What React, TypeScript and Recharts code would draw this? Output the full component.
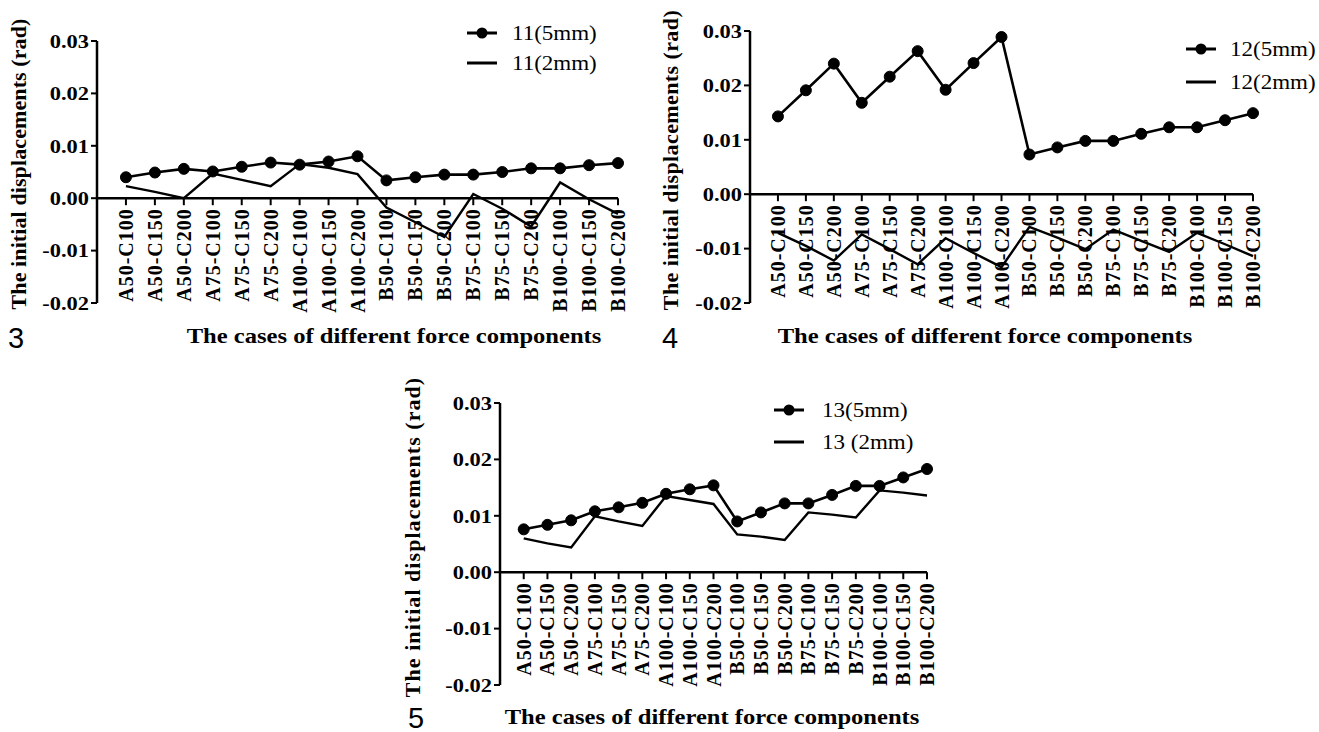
import React from "react";
import { LineChart, Line, XAxis, YAxis, ReferenceLine, Legend } from "recharts";

// force component cases (x categories)
const cases = [
  "A50-C100", "A50-C150", "A50-C200",
  "A75-C100", "A75-C150", "A75-C200",
  "A100-C100", "A100-C150", "A100-C200",
  "B50-C100", "B50-C150", "B50-C200",
  "B75-C100", "B75-C150", "B75-C200",
  "B100-C100", "B100-C150", "B100-C200",
];
const yTicks = [-0.02, -0.01, 0, 0.01, 0.02, 0.03];

// panel 3 : DOF 11
const dof11_5mm = [0.004, 0.0049, 0.0056, 0.0051, 0.006, 0.0068, 0.0064, 0.007, 0.008, 0.0034, 0.004, 0.0045, 0.0045, 0.005, 0.0057, 0.0057, 0.0063, 0.0067];
const dof11_2mm = [0.0023, 0.0012, 0.0, 0.0047, 0.0035, 0.0023, 0.0065, 0.0058, 0.0046, -0.0018, -0.0046, -0.0074, 0.0008, -0.002, -0.0054, 0.003, -0.0002, -0.003];

// panel 4 : DOF 12
const dof12_5mm = [0.0143, 0.0191, 0.024, 0.0168, 0.0216, 0.0263, 0.0192, 0.0241, 0.0289, 0.0073, 0.0086, 0.0098, 0.0098, 0.0111, 0.0123, 0.0123, 0.0136, 0.0149];
const dof12_2mm = [-0.0071, -0.0095, -0.0122, -0.0074, -0.0101, -0.0129, -0.0081, -0.0108, -0.0134, -0.006, -0.008, -0.0101, -0.0065, -0.0086, -0.0106, -0.0071, -0.0092, -0.0114];

// panel 5 : DOF 13
const dof13_5mm = [0.0076, 0.0084, 0.0092, 0.0108, 0.0115, 0.0123, 0.0139, 0.0147, 0.0154, 0.009, 0.0106, 0.0122, 0.0122, 0.0137, 0.0153, 0.0153, 0.0168, 0.0183];
const dof13_2mm = [0.006, 0.0051, 0.0044, 0.0099, 0.009, 0.0082, 0.0135, 0.0128, 0.0121, 0.0067, 0.0063, 0.0057, 0.0106, 0.0102, 0.0097, 0.0145, 0.0141, 0.0136];

const Y_MIN = -0.02;
const Y_MAX = 0.03;
const serif = '"Liberation Serif", "Times New Roman", serif';
const sans = '"Liberation Sans", Arial, sans-serif';

const panels = [
  {
    num: "3", s5: dof11_5mm, s2: dof11_2mm, name5: "11(5mm)", name2: "11(2mm)",
    box: { left: 0, top: 0, width: 640, height: 330 },
    plot: { left: 97, top: 41, right: 618, bottom: 303 },
    legend: { left: 467, top: 18, rowH: 30, gap: 15 },
    yTitle: { x: 19, y: 164, spacing: 0.1 },
    xTitle: { x: 394, y: 336 },
    numPos: { x: 16, y: 338 },
  },
  {
    num: "4", s5: dof12_5mm, s2: dof12_2mm, name5: "12(5mm)", name2: "12(2mm)",
    box: { left: 660, top: 0, width: 659, height: 330 },
    plot: { left: 750, top: 31, right: 1253, bottom: 303 },
    legend: { left: 1186, top: 32, rowH: 33, gap: 14 },
    yTitle: { x: 671, y: 160, spacing: 0.4 },
    xTitle: { x: 985, y: 336 },
    numPos: { x: 670, y: 338 },
  },
  {
    num: "5", s5: dof13_5mm, s2: dof13_2mm, name5: "13(5mm)", name2: "13 (2mm)",
    box: { left: 420, top: 370, width: 540, height: 340 },
    plot: { left: 500, top: 403, right: 927, bottom: 685 },
    legend: { left: 774, top: 394, rowH: 32, gap: 18 },
    yTitle: { x: 413, y: 537, spacing: 1.05 },
    xTitle: { x: 712, y: 717 },
    numPos: { x: 416, y: 718 },
  },
];

function XTick({ x, payload, zeroY }: any) {
  const label = cases[payload.value];
  return (
    <g>
      <line x1={x} x2={x} y1={zeroY} y2={zeroY + 7} stroke="#000" strokeWidth={2} />
      <text
        transform={`translate(${x},${zeroY + 10}) rotate(-90)`}
        textAnchor="end"
        dominantBaseline="central"
        style={{ fontFamily: serif, fontWeight: 700, fontSize: 20, letterSpacing: 1 }}
        fill="#000"
      >
        {label}
      </text>
    </g>
  );
}

function YTick({ x, y, payload }: any) {
  return (
    <text
      transform={`translate(${x},${y}) scale(1.18,1)`}
      textAnchor="end"
      dominantBaseline="central"
      style={{ fontFamily: serif, fontWeight: 700, fontSize: 19 }}
      fill="#000"
    >
      {Number(payload.value).toFixed(2)}
    </text>
  );
}

function LegendBox({ payload, rowH, gap, dotName }: any) {
  // 5mm series first, as in the original figure
  const items = [...(payload || [])].sort((a: any, b: any) =>
    a.value === dotName ? -1 : b.value === dotName ? 1 : 0
  );
  return (
    <div>
      {items.map((e: any) => (
        <div key={e.value} style={{ display: "flex", alignItems: "center", height: rowH }}>
          <svg width={30} height={14}>
            <line x1={0} x2={30} y1={7} y2={7} stroke="#000" strokeWidth={3} />
            {e.value === dotName && <circle cx={15} cy={7} r={5.5} fill="#000" />}
          </svg>
          <span
            style={{
              marginLeft: gap,
              fontFamily: serif,
              fontSize: 20,
              lineHeight: 1,
              display: "inline-block",
              whiteSpace: "nowrap",
              transform: "scaleX(1.15)",
              transformOrigin: "left center",
              color: "#000",
            }}
          >
            {e.value}
          </span>
        </div>
      ))}
    </div>
  );
}

function Panel({ cfg }: any) {
  const { box, plot } = cfg;
  const yAxisW = plot.left - box.left;
  const xAxisH = box.top + box.height - plot.bottom;
  const margin = { top: plot.top - box.top, right: box.left + box.width - plot.right, bottom: 0, left: 0 };
  const zeroY = margin.top + ((Y_MAX - 0) / (Y_MAX - Y_MIN)) * (plot.bottom - plot.top);
  const data = cases.map((c, i) => ({ idx: i, name: c, s5: cfg.s5[i], s2: cfg.s2[i] }));

  return (
    <div style={{ position: "absolute", left: box.left, top: box.top }}>
      <LineChart width={box.width} height={box.height} data={data} margin={margin}>
        <XAxis
          type="number"
          dataKey="idx"
          domain={[-1, cases.length - 1]}
          ticks={cases.map((_, i) => i)}
          interval={0}
          axisLine={false}
          tickLine={false}
          tickSize={0}
          height={xAxisH}
          tick={(p: any) => <XTick {...p} zeroY={zeroY} />}
        />
        <YAxis
          type="number"
          domain={[Y_MIN, Y_MAX]}
          ticks={yTicks}
          interval={0}
          width={yAxisW}
          axisLine={{ stroke: "#000", strokeWidth: 2.5 }}
          tickLine={{ stroke: "#000", strokeWidth: 2 }}
          tickSize={6}
          tickMargin={2}
          tick={(p: any) => <YTick {...p} />}
        />
        <ReferenceLine y={0} stroke="#000" strokeWidth={2.5} />
        <Line
          type="linear"
          dataKey="s5"
          name={cfg.name5}
          stroke="#000"
          strokeWidth={2.6}
          dot={{ r: 5.5, fill: "#000", stroke: "#000", strokeWidth: 1 }}
          activeDot={false}
          isAnimationActive={false}
        />
        <Line
          type="linear"
          dataKey="s2"
          name={cfg.name2}
          stroke="#000"
          strokeWidth={2.4}
          dot={false}
          activeDot={false}
          isAnimationActive={false}
        />
        <Legend
          layout="vertical"
          align="center"
          verticalAlign="middle"
          wrapperStyle={{ left: cfg.legend.left - box.left, top: cfg.legend.top - box.top, width: "auto", height: "auto" }}
          content={(p: any) => (
            <LegendBox payload={p.payload} rowH={cfg.legend.rowH} gap={cfg.legend.gap} dotName={cfg.name5} />
          )}
        />
      </LineChart>
    </div>
  );
}

export default function App() {
  return (
    <div
      style={{
        position: "absolute",
        left: 0,
        top: 0,
        width: 1319,
        height: 732,
        background: "#fff",
        overflow: "hidden",
      }}
    >
      {panels.map((cfg) => (
        <React.Fragment key={cfg.num}>
          <Panel cfg={cfg} />
          <div
            style={{
              position: "absolute",
              left: cfg.yTitle.x,
              top: cfg.yTitle.y,
              transform: "translate(-50%,-50%) rotate(-90deg)",
              whiteSpace: "nowrap",
              fontFamily: serif,
              fontWeight: "bold",
              fontSize: 22,
              lineHeight: 1,
              letterSpacing: cfg.yTitle.spacing,
            }}
          >
            The initial displacements (rad)
          </div>
          <div
            style={{
              position: "absolute",
              left: cfg.xTitle.x,
              top: cfg.xTitle.y,
              transform: "translate(-50%,-50%) scaleX(1.17)",
              whiteSpace: "nowrap",
              fontFamily: serif,
              fontWeight: "bold",
              fontSize: 21,
              lineHeight: 1,
            }}
          >
            The cases of different force components
          </div>
          <div
            style={{
              position: "absolute",
              left: cfg.numPos.x,
              top: cfg.numPos.y,
              transform: "translate(-50%,-50%)",
              fontFamily: sans,
              fontSize: 29,
              lineHeight: 1,
            }}
          >
            {cfg.num}
          </div>
        </React.Fragment>
      ))}
    </div>
  );
}
